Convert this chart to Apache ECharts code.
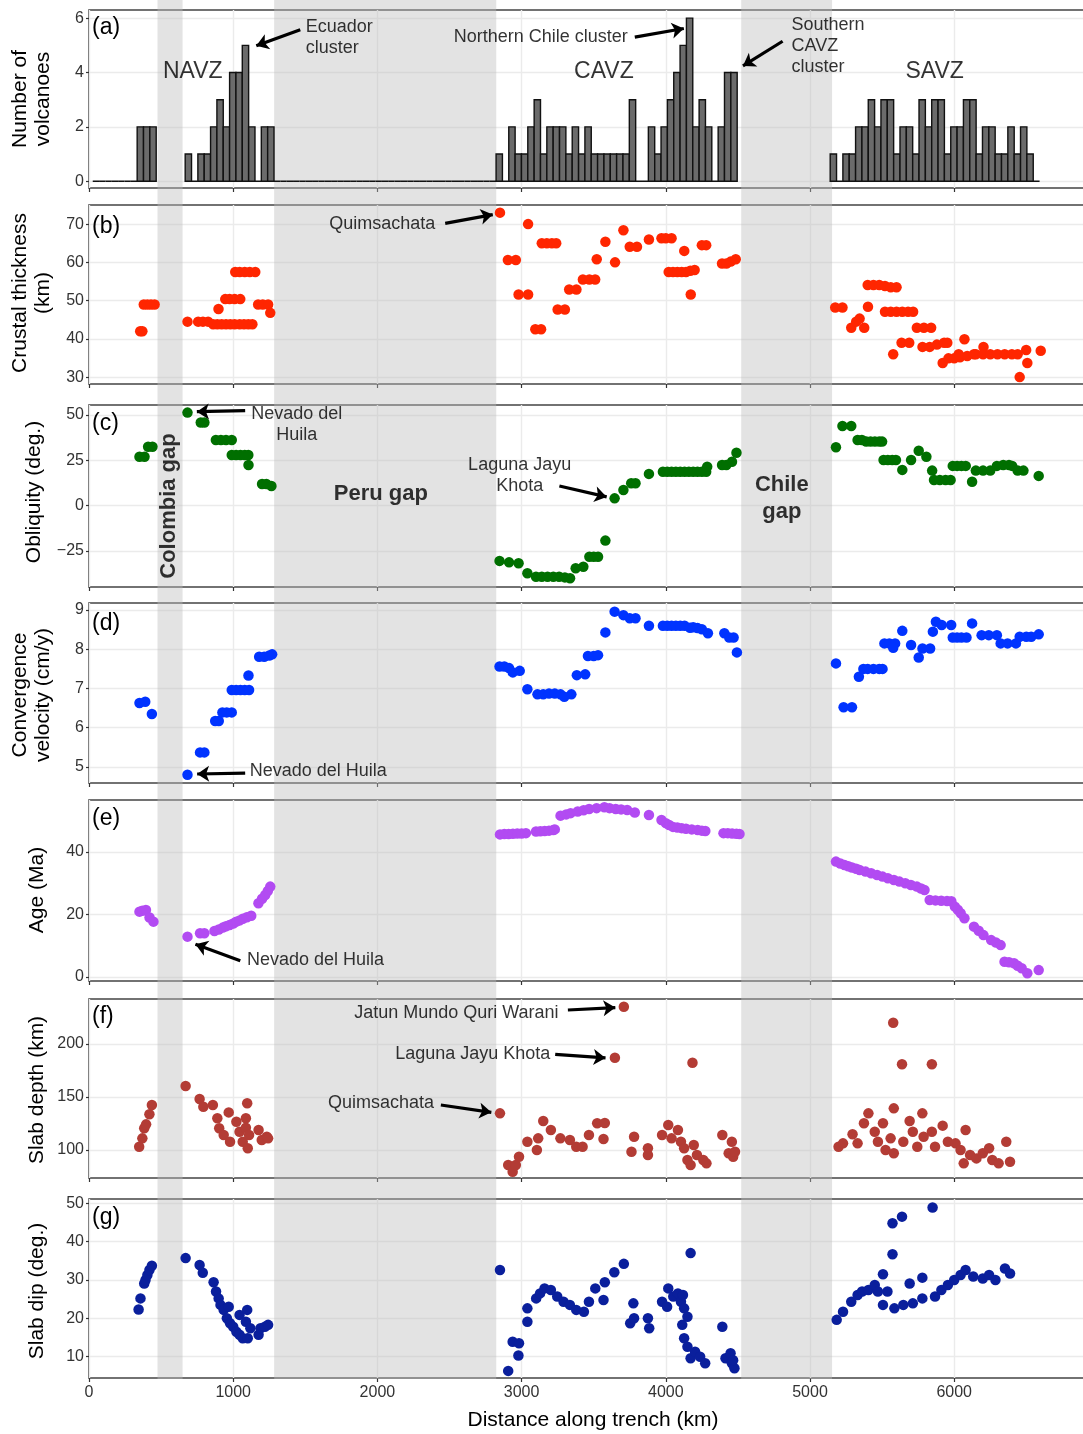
<!DOCTYPE html>
<html><head><meta charset="utf-8">
<script src="https://cdn.jsdelivr.net/npm/echarts@6/dist/echarts.min.js"></script>
<style>html,body{margin:0;padding:0;background:#fff}#c{width:1083px;height:1434px}</style>
</head><body><div id="c"></div>
<script>
// ---------------- DATA ----------------
const HIST_BIN = 44; // km
const histSeg1Start = 26;
const histSeg1Counts = [0,0,0,0,0,0,0,2,2,2];
const histSeg2Start = 667;
const histSeg2Counts = [1,0,1,1,2,3,2,4,4,5,2,0,2,2,
  0,0,0,0,0,0,0,0,0,0,0,0,0,0,0,0,0,0,0,0,0,0,0,0,0,0,0,0,0,0,0,0,0,0,0,
  1,0,2,1,1,2,3,1,2,2,2,1,2,1,2,1,1,1,1,1,1,3,0,0,2,1,2,3,4,5,6,2,3,2,0,2,4,4];
const histSeg3Start = 5140;
const histSeg3Counts = [1,0,1,1,2,2,3,2,3,3,1,2,2,1,3,2,3,3,1,2,2,3,3,1,2,2,1,1,2,1,2,1,0];

const gaps = [[475,649],[1284,2824],[4523,5153]];

const crustal = [
 [355,42.0],[370,42.0],[380,49.0],[405,49.0],[430,49.0],[455,49.0],
 [683,44.5],[757,44.5],[790,44.5],[826,44.5],
 [861,43.8],[890,43.8],[920,43.8],[950,43.8],[980,43.8],[1010,43.8],[1045,43.8],[1075,43.8],[1105,43.8],[1133,43.8],
 [898,47.8],[945,50.4],[975,50.4],[1010,50.4],[1049,50.4],
 [1014,57.5],[1045,57.5],[1080,57.5],[1115,57.5],[1153,57.5],
 [1173,49.0],[1205,49.0],[1242,49.0],[1257,46.8],
 [2850,73.0],[3045,70.0],[2905,60.6],[2960,60.6],[2979,51.6],[3045,51.6],[3095,42.5],[3135,42.5],
 [3140,65.0],[3175,65.0],[3210,65.0],[3240,65.0],
 [3250,47.7],[3300,47.7],[3330,52.9],[3380,52.9],[3425,55.5],[3470,55.5],[3510,55.5],
 [3521,60.8],[3581,65.4],[3648,60.0],[3706,68.4],[3750,64.1],[3800,64.1],[3883,66.0],
 [3970,66.3],[4000,66.3],[4040,66.3],[4128,63.0],
 [4020,57.5],[4050,57.5],[4080,57.5],[4110,57.5],[4140,57.5],[4170,57.8],[4200,58.0],
 [4173,51.6],[4250,64.5],[4280,64.5],
 [4390,59.7],[4420,59.7],[4450,60.2],[4485,60.8],
 [5175,48.2],[5225,48.2],[5286,42.9],[5376,42.9],[5344,45.3],[5320,44.5],[5402,48.4],
 [5400,54.1],[5440,54.1],[5480,54.1],[5520,53.8],[5560,53.5],[5600,53.5],
 [5520,47.1],[5560,47.1],[5600,47.1],[5640,47.1],[5680,47.1],[5715,47.1],
 [5577,36.0],[5635,39.0],[5688,39.0],
 [5741,42.9],[5790,42.9],[5840,42.9],
 [5780,37.9],[5830,37.9],[5880,38.5],[5930,39.0],[5952,39.0],
 [5920,33.7],[5960,34.9],[6000,34.9],[6040,35.2],[6090,35.5],[6137,36.0],
 [6071,39.9],[6031,36.0],[6203,37.9],
 [6150,36.0],[6200,36.0],[6250,36.0],[6300,36.0],[6350,36.0],[6400,36.0],[6440,36.0],
 [6499,37.1],[6507,33.7],[6454,30.0],[6600,36.9]
];

const obliquity = [
 [350,27.0],[385,27.0],[410,32.5],[440,32.5],[683,51.3],[775,45.8],[800,45.8],
 [880,36.2],[915,36.2],[950,36.2],[990,36.2],
 [990,27.9],[1020,27.9],[1050,27.9],[1080,27.9],[1105,27.9],[1106,22.4],
 [1200,11.9],[1230,11.9],[1265,10.8],
 [2847,-30.5],[2913,-31.3],[2979,-31.8],[3040,-37.3],
 [3100,-39.2],[3140,-39.2],[3180,-39.2],[3220,-39.2],[3260,-39.2],[3300,-39.6],[3336,-40.1],
 [3375,-34.6],[3428,-33.7],[3470,-28.2],[3500,-28.2],[3530,-28.2],[3581,-19.3],
 [3645,4.0],[3706,8.6],[3760,12.3],[3790,12.3],[3883,17.5],
 [3980,18.7],[4010,18.7],[4040,18.7],[4070,18.7],[4100,18.7],[4130,18.7],[4160,18.7],[4190,18.7],[4220,18.7],[4250,18.7],[4280,18.7],[4287,21.5],
 [4390,22.4],[4420,22.4],[4459,24.2],[4490,29.2],
 [5180,32.2],[5225,43.9],[5286,43.9],
 [5330,36.2],[5360,36.2],[5390,35.3],[5420,35.3],[5450,35.3],[5480,35.3],[5500,35.3],
 [5510,25.2],[5540,25.2],[5570,25.2],[5596,25.2],[5640,19.7],[5701,25.2],[5754,30.3],[5807,27.0],[5847,19.3],
 [5860,14.1],[5900,14.1],[5940,14.1],[5975,14.1],
 [5990,21.9],[6020,21.9],[6050,21.9],[6080,21.9],[6124,13.2],
 [6150,19.3],[6200,19.3],[6250,19.3],[6296,21.9],[6340,22.4],[6380,22.4],[6402,21.9],[6440,19.3],[6480,19.3],[6586,16.4]
];

const velocity = [
 [350,6.63],[390,6.66],[436,6.35],[683,4.80],[770,5.37],[800,5.37],[875,6.17],[900,6.17],
 [925,6.39],[955,6.39],[990,6.39],[990,6.96],[1020,6.96],[1050,6.96],[1080,6.96],[1110,6.96],[1106,7.33],
 [1180,7.81],[1215,7.81],[1250,7.84],[1270,7.87],
 [2847,7.56],[2880,7.56],[2913,7.52],[2939,7.41],[2987,7.45],[3040,6.98],
 [3110,6.85],[3150,6.85],[3190,6.87],[3230,6.87],[3270,6.85],[3296,6.79],[3345,6.85],
 [3383,7.34],[3441,7.36],[3460,7.83],[3500,7.83],[3530,7.85],[3581,8.43],[3645,8.96],[3706,8.87],[3750,8.79],[3790,8.79],[3883,8.60],
 [3980,8.60],[4010,8.60],[4040,8.60],[4070,8.60],[4100,8.60],[4130,8.60],[4168,8.55],[4190,8.56],[4220,8.54],[4250,8.51],[4292,8.41],
 [4406,8.41],[4440,8.30],[4470,8.30],[4493,7.92],
 [5180,7.64],[5233,6.52],[5291,6.52],[5339,7.30],[5370,7.50],[5400,7.50],[5440,7.50],[5480,7.50],[5503,7.50],
 [5516,8.15],[5550,8.15],[5590,8.15],[5577,8.04],[5640,8.47],[5701,8.11],[5754,7.79],[5780,8.02],[5833,8.02],[5852,8.45],[5873,8.70],[5913,8.62],[5979,8.62],
 [5990,8.30],[6020,8.30],[6050,8.30],[6085,8.30],[6124,8.66],[6190,8.36],[6240,8.36],[6296,8.36],[6322,8.15],[6370,8.15],[6428,8.15],[6454,8.32],[6500,8.32],[6534,8.32],[6586,8.38]
];

const age = [
 [350,20.9],[370,21.2],[395,21.4],[420,19.0],[447,17.7],[683,12.9],[770,14.0],[800,14.0],
 [870,14.7],[900,15.2],[928,15.8],[950,16.2],[975,16.6],[1000,17.1],[1021,17.7],[1045,18.1],[1067,18.6],[1095,19.1],[1125,19.6],
 [1175,23.6],[1200,25.0],[1222,26.2],[1240,27.5],[1257,28.9],
 [2850,45.6],[2880,45.7],[2910,45.7],[2940,45.8],[2970,45.9],[3000,45.9],[3030,46.0],
 [3100,46.5],[3130,46.6],[3160,46.7],[3190,46.8],[3220,47.0],[3230,47.2],
 [3270,51.6],[3309,52.0],[3340,52.4],[3389,52.9],[3430,53.3],[3468,53.7],[3520,54.0],[3574,54.3],[3610,54.0],[3653,53.7],[3690,53.6],[3732,53.4],[3785,52.6],
 [3883,51.8],[3970,50.2],[4000,49.2],[4023,48.6],[4050,48.0],[4080,47.8],[4110,47.6],[4140,47.4],[4180,47.2],[4221,47.0],[4250,46.8],[4274,46.7],
 [4400,46.0],[4430,46.0],[4460,45.9],[4490,45.8],[4511,45.7],
 [5180,36.9],[5210,36.3],[5239,35.8],[5265,35.4],[5291,35.0],[5320,34.6],[5344,34.2],[5385,33.7],[5424,33.2],[5465,32.6],[5503,32.1],[5540,31.6],[5582,31.0],[5620,30.5],[5661,30.0],[5700,29.4],[5741,28.9],[5770,28.3],[5794,27.8],
 [5830,24.6],[5870,24.5],[5910,24.4],[5950,24.3],[5980,24.2],[6005,22.5],[6025,21.5],[6045,20.4],[6071,18.8],[6137,16.1],[6170,14.8],[6203,13.4],[6256,11.8],[6290,11.0],[6322,10.2],
 [6349,4.9],[6380,4.7],[6415,4.4],[6440,3.6],[6468,2.8],[6507,1.2],[6586,2.2]
];

const slabDepth = [
 [348,103.1],[370,111],[383,120.5],[396,124.2],[419,133.7],[436,142.5],
 [670,160.4],[767,148.1],[793,140.9],[859,142.5],[890,129.9],[903,120.5],[934,114.2],[969,135.5],[978,107.8],
 [1022,126.7],[1044,117.3],[1066,107.8],[1088,129.9],[1097,144.1],[1088,121],[1110,114.2],[1101,101.6],
 [1176,118.9],[1198,109.4],[1233,112.5],[1242,111],
 [2850,134.6],[2907,85.8],[2938,79.5],[2960,85.8],[2982,93.7],[3040,107.8],[3106,100],[3115,111],[3150,127.4],[3203,118.9],
 [3269,111],[3335,109.4],[3379,103.1],[3423,103.1],[3467,114.2],[3524,125.2],[3577,125.5],[3568,110.4],
 [3709,235.2],[3647,187.1],[3762,98.4],[3780,112.5],[3876,101.6],[3876,95.3],
 [3974,114.2],[4017,123.6],[4040,111],[4084,118.9],[4105,107.8],[4127,101.6],[4150,90.6],[4172,85.8],[4185,182.4],[4194,104.7],[4216,95.3],[4260,90.6],[4282,87.4],
 [4392,114.2],[4436,96.9],[4458,107.8],[4467,93.7],[4480,98.4],
 [5198,103.1],[5229,106.3],[5295,114.8],[5330,106.3],[5374,125.2],[5405,134.6],[5449,117.3],[5471,107.8],[5506,125.2],[5524,100],[5559,111],
 [5577,220.1],[5581,139.3],[5581,96.9],[5638,181],[5647,107.8],[5691,127.4],[5713,117.3],[5744,103.1],[5779,134.6],[5788,112.5],
 [5845,181],[5845,117.3],[5867,103.1],[5920,123],[5956,107.8],[6009,106.3],[6044,100],[6066,87.4],[6079,118.9],[6110,95.3],
 [6154,92.1],[6198,96.9],[6242,101.6],[6264,90.6],[6308,87.4],[6361,107.8],[6387,89]
];

const slabDip = [
 [344,22.3],[357,25.2],[383,29.1],[392,30.0],[405,31.3],[419,32.6],[436,33.7],
 [670,35.7],[767,33.9],[789,31.9],[864,29.4],[881,27.0],[899,25.2],[912,23.5],[934,22.2],[969,23.0],[956,20.0],[978,18.7],
 [1000,17.8],[1022,16.5],[1044,15.7],[1066,14.8],[1044,20.9],[1088,19.1],[1097,22.2],[1101,14.8],[1119,17.4],
 [1176,15.7],[1189,17.4],[1220,17.8],[1242,18.3],
 [2850,32.6],[2907,6.3],[2938,13.9],[2982,13.5],[2978,10.3],[3040,19.1],[3040,22.6],[3101,25.2],[3128,26.5],[3159,27.8],
 [3203,27.4],[3247,25.7],[3291,24.3],[3335,23.5],[3379,22.2],[3432,21.7],[3467,24.3],[3511,27.8],[3568,24.8],[3577,29.4],
 [3643,32.0],[3709,34.2],[3753,18.7],[3775,23.9],[3780,20.0],[3876,20.0],[3885,17.4],
 [3974,24.3],[4009,23.0],[4017,27.8],[4052,25.7],[4084,26.5],[4105,24.3],[4119,26.1],[4127,22.6],[4150,20.4],[4114,18.3],
 [4127,14.8],[4150,12.6],[4172,37.0],[4172,9.6],[4203,11.3],[4238,10.0],[4273,8.3],
 [4392,17.8],[4414,9.6],[4449,10.9],[4458,8.3],[4476,7.0],[4467,9.1],
 [5185,19.6],[5229,21.7],[5286,24.3],[5330,26.1],[5361,27.0],[5405,27.4],[5449,28.7],[5471,27.0],[5506,23.5],[5506,31.5],[5537,27.0],
 [5572,36.7],[5572,44.8],[5585,22.6],[5638,46.5],[5647,23.5],[5691,29.1],[5713,23.9],[5779,30.6],[5779,25.2],
 [5850,48.9],[5867,25.7],[5911,27.4],[5956,28.7],[6000,30.0],[6044,31.3],[6079,32.6],[6132,30.9],[6198,30.4],[6242,31.3],[6286,30.0],[6352,33.0],[6387,31.7]
];

// ---------------- LAYOUT ----------------
const FONT = "'Liberation Sans', Arial, Helvetica, sans-serif";
const X_MAX = 6907;
const PANELS = [
  {top:10,  height:178, min:-0.25, max:6.3,  step:1,    every:2},
  {top:205, height:179, min:28.2,  max:75.0, step:5,    every:10},
  {top:405, height:182, min:-44.9, max:55.5, step:12.5, every:25},
  {top:603, height:180, min:4.59,  max:9.18, step:0.5,  every:1},
  {top:800, height:181, min:-1.28, max:56.6, step:10,   every:20},
  {top:999, height:179, min:73.6,  max:242.5,step:25,   every:50},
  {top:1199,height:179, min:4.45,  max:51.1, step:5,    every:10}
];
const COLORS = [null,'#ff2600','#006f00','#0033ff','#b24bf2','#b33c35','#0a1f9c'];
const SERIES_DATA = [null, crustal, obliquity, velocity, age, slabDepth, slabDip];

function isMult(v, m){ const r = v / m; return Math.abs(r - Math.round(r)) < 1e-6; }
function labelValues(p){ const out = []; for (let v = Math.ceil(p.min / p.every) * p.every; v <= p.max; v += p.every) out.push(v); return out; }

const grids = PANELS.map(p => ({left:89, width:996, top:p.top, height:p.height, show:true,
  containLabel:false, outerBoundsMode:'none',
  borderColor:'#444', borderWidth:1.6, backgroundColor:'transparent'}));
grids.push({left:89, width:996, top:0, height:1379, show:false, containLabel:false, outerBoundsMode:'none'});

const xAxes = PANELS.map((p,i) => ({gridIndex:i, type:'value', min:0, max:X_MAX, interval:1000,
  axisLine:{show:false, onZero:false}, axisTick:{show:true, length:4, lineStyle:{color:'#333', width:1.2}},
  axisLabel:{show:i===6, fontSize:16, color:'#333', fontFamily:FONT, margin:7,
    formatter:v => isMult(v,1000) ? String(v) : ''},
  splitLine:{show:true, lineStyle:{color:'#ebebeb', width:1.4}}}));
xAxes.push({gridIndex:7, type:'value', min:0, max:X_MAX, show:false});

const yAxes = PANELS.map((p,i) => ({gridIndex:i, type:'value', min:p.min, max:p.max,
  minInterval:p.step, maxInterval:p.step, splitNumber:Math.round((p.max-p.min)/p.step),
  axisLine:{show:false, onZero:false},
  axisTick:{show:true, length:3, customValues:labelValues(p), lineStyle:{color:'#333', width:1.2}},
  axisLabel:{fontSize:16, color:'#333', fontFamily:FONT, margin:5,
    formatter:v => isMult(v,p.every) ? (v < 0 ? '\u2212' + Math.abs(v) : String(v)) : ''},
  splitLine:{show:true, lineStyle:{color:'#ebebeb', width:1.4}}}));
yAxes.push({gridIndex:7, type:'value', min:0, max:1, show:false});

// histogram bins from segments
const histData = [];
[[histSeg1Start,histSeg1Counts],[histSeg2Start,histSeg2Counts],[histSeg3Start,histSeg3Counts]].forEach(([s,c]) => {
  c.forEach((n,k) => histData.push([s + k*HIST_BIN, n]));
});

const series = [];
series.push({type:'custom', name:'gaps', xAxisIndex:7, yAxisIndex:7, z:1, silent:true,
  data:gaps, encode:{x:[0,1]},
  renderItem:(params, api) => {
    const a = api.coord([api.value(0), 0]), b = api.coord([api.value(1), 1]);
    return {type:'rect', shape:{x:a[0], y:b[1], width:b[0]-a[0], height:a[1]-b[1]},
      style:{fill:'rgba(188,188,188,0.42)'}};
  }});
series.push({type:'custom', name:'volcanoes', xAxisIndex:0, yAxisIndex:0, z:2,
  data:histData, encode:{x:0, y:1},
  renderItem:(params, api) => {
    const x0 = api.value(0), n = api.value(1);
    const a = api.coord([x0, 0]), b = api.coord([x0 + HIST_BIN, n]);
    return {type:'rect', shape:{x:a[0], y:b[1], width:b[0]-a[0], height:a[1]-b[1]},
      style:{fill:'#6b6b6b', stroke:'#111', lineWidth:1.4}};
  }});
for (let i = 1; i < 7; i++) {
  series.push({type:'scatter', xAxisIndex:i, yAxisIndex:i, z:3, data:SERIES_DATA[i],
    symbolSize:10.5, itemStyle:{color:COLORS[i], opacity:1}});
}

// annotations: [text, x, y, align, size, bold, lineHeight, rotate]
const NOTES = [
  [ ['NAVZ',723,4.0,'center',23], ['CAVZ',3574,4.0,'center',23], ['SAVZ',5868,4.0,'center',23],
    ['Ecuador\ncluster',1506,5.26,'left',18], ['Northern Chile cluster',3136,5.3,'center',18],
    ['Southern\nCAVZ\ncluster',4875,4.96,'left',18] ],
  [ ['Quimsachata',2405,69.8,'right',18] ],
  [ ['Nevado del\nHuila',1444,44.4,'center',18], ['Laguna Jayu\nKhota',2990,16.5,'center',18],
    ['Colombia gap',557,-0.5,'center',22,true,24,90], ['Peru gap',2027,5.9,'center',22,true],
    ['Chile\ngap',4808,3.6,'center',22,true,27] ],
  [ ['Nevado del Huila',1118,4.88,'left',18] ],
  [ ['Nevado del Huila',1099,5.12,'left',18] ],
  [ ['Jatun Mundo Quri Warani',3260,229,'right',18], ['Laguna Jayu Khota',3203,190.3,'right',18],
    ['Quimsachata',2396,144,'right',18] ],
  []
];
const ARROWS = [
  [[1465,5.57,1160,4.98],[3785,5.3,4125,5.62],[4810,5.15,4535,4.24]],
  [[2470,70.2,2800,72.5]],
  [[1083,52.4,748,51.8],[3262,10.8,3590,4.8]],
  [[1083,4.84,750,4.82]],
  [[1049,5.2,738,10.5]],
  [[3321,232.1,3650,234.4],[3233,190.3,3582,186.9],[2440,142.5,2790,135.6]],
  []
];
for (let i = 0; i < 7; i++) {
  if (!NOTES[i].length && !ARROWS[i].length) continue;
  series.push({type:'scatter', xAxisIndex:i, yAxisIndex:i, z:5, silent:true,
    symbolSize:1, itemStyle:{color:'rgba(0,0,0,0)'},
    data:NOTES[i].map(n => ({value:[n[1], n[2]], label:{show:true, formatter:n[0], position:[0,0],
      align:n[3], verticalAlign:'middle', fontSize:n[4], fontWeight:n[5] ? 'bold' : 'normal',
      lineHeight:n[6] || Math.round(n[4]*1.17), rotate:n[7] || 0, color:'#000', fontFamily:FONT}})),
    markLine:{silent:true, animation:false, symbol:['none','arrow'], symbolSize:12,
      lineStyle:{color:'#000', width:3.2, type:'solid'}, itemStyle:{color:'#000'}, label:{show:false},
      data:ARROWS[i].map(a => [{coord:[a[0],a[1]]},{coord:[a[2],a[3]]}])}
  });
}

// axis titles and panel tags
const TITLES = [
  ['Number of\nvolcanoes',32,99], ['Crustal thickness\n(km)',32,293], ['Obliquity (deg.)',34,492],
  ['Convergence\nvelocity (cm/y)',32,695], ['Age (Ma)',37,890], ['Slab depth (km)',37,1090], ['Slab dip (deg.)',37,1291]
];
const TAGS = ['(a)','(b)','(c)','(d)','(e)','(f)','(g)'];
const TAG_Y = [28,227,424,624,819,1017,1218];
const graphic = [];
TITLES.forEach(t => graphic.push({type:'text', x:t[1], y:t[2], rotation:Math.PI/2, z:10,
  style:{text:t[0], fontSize:21, fontFamily:FONT, fill:'#000', align:'center', verticalAlign:'middle', lineHeight:23}}));
TAGS.forEach((t,i) => graphic.push({type:'text', x:92, y:TAG_Y[i], z:10,
  style:{text:t, fontSize:23, fontFamily:FONT, fill:'#000', align:'left', verticalAlign:'middle'}}));
graphic.push({type:'text', x:593, y:1420, z:10,
  style:{text:'Distance along trench (km)', fontSize:21, fontFamily:FONT, fill:'#000', align:'center', verticalAlign:'middle'}});

const chart = echarts.init(document.getElementById('c'), null, {renderer:'canvas', width:1083, height:1434});
chart.setOption({animation:false, backgroundColor:'#fff', textStyle:{fontFamily:FONT},
  grid:grids, xAxis:xAxes, yAxis:yAxes, series:series, graphic:graphic});
</script>
</body></html>
